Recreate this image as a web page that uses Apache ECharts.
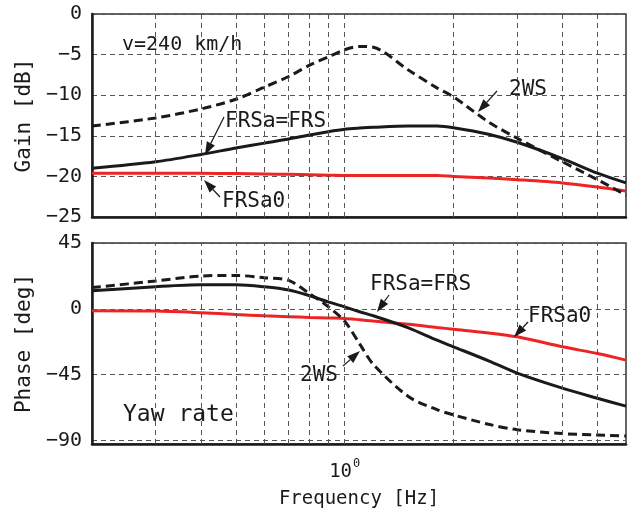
<!DOCTYPE html>
<html>
<head>
<meta charset="utf-8">
<script src="https://cdn.jsdelivr.net/npm/echarts@6/dist/echarts.min.js"></script>
<style>
  html, body { margin: 0; padding: 0; background: #fff; }
  #chart { width: 633px; height: 515px; }
</style>
</head>
<body>
<div id="chart"></div>
<script>
// frequency points [Hz]
var freq = [0.2, 0.3, 0.4, 0.5, 0.6, 0.7, 0.8, 0.9, 1.0, 1.1, 1.2, 1.5, 1.8, 2, 2.5, 3, 4, 5, 6];

// gain [dB]
var gain2WS   = [-13.8, -12.8, -11.7, -10.5, -9.0, -7.7, -6.3, -5.3, -4.4, -4.0, -4.1, -6.9, -9.1, -10.2, -13.3, -15.3, -18.2, -20.4, -22.3];
var gainFRS   = [-19.0, -18.2, -17.3, -16.5, -15.9, -15.4, -14.9, -14.5, -14.2, -14.05, -13.95, -13.8, -13.8, -14.0, -14.8, -15.8, -17.8, -19.6, -20.8];
var gainFRSa0 = [-19.6, -19.6, -19.6, -19.65, -19.7, -19.75, -19.8, -19.85, -19.9, -19.9, -19.9, -19.9, -19.9, -20.0, -20.2, -20.4, -20.8, -21.3, -21.8];

// phase [deg]
var phase2WS   = [14.5, 19, 22.4, 22.8, 21.2, 19.4, 10.3, 1.5, -8.5, -24, -38, -60, -69, -72.6, -79, -82.7, -85.4, -86.3, -87];
var phaseFRS   = [12.3, 15.1, 16.4, 16.4, 15, 12.8, 8.9, 4.7, 1.3, -2, -4.8, -13, -21.5, -26, -35.6, -44, -54.3, -61.2, -66.6];
var phaseFRSa0 = [-1.4, -1.6, -2.7, -3.9, -4.8, -5.4, -5.9, -6.3, -6.6, -7.5, -8.4, -10.6, -12.8, -14, -16.5, -19.2, -26, -30.6, -35.1];

// vertical grid lines of the log axis
var freqGrid = [0.3, 0.4, 0.5, 0.6, 0.7, 0.8, 0.9, 1, 2, 3, 4, 5];
var phaseTicks = [-90, -45, 0, 45];

var FONT = '"DejaVu Sans Mono", monospace';
var RED = '#ee2424';
var INK = '#1a1a1a';

function pairs(ys) {
  return freq.map(function (f, i) { return [f, ys[i]]; });
}

function minus(v) {
  return String(v).replace('-', '\u2212');
}

var gridMarks = {
  silent: true,
  symbol: ['none', 'none'],
  label: { show: false },
  animation: false,
  lineStyle: { color: '#555', width: 1, type: [5, 4] },
  data: freqGrid.map(function (f) { return { xAxis: f }; })
};

function line(name, xi, ys, color, dashed) {
  return {
    name: name,
    type: 'line',
    xAxisIndex: xi,
    yAxisIndex: xi,
    data: pairs(ys),
    smooth: 0.3,
    symbol: 'none',
    animation: false,
    lineStyle: { color: color, width: 3, type: dashed ? [9, 5] : 'solid' },
    z: 3
  };
}

// arrow: thin shaft + filled head
function arrow(x1, y1, x2, y2) {
  var a = Math.atan2(y2 - y1, x2 - x1);
  var L = 13, W = 4.5;
  var bx = x2 - L * Math.cos(a), by = y2 - L * Math.sin(a);
  var px = -Math.sin(a) * W, py = Math.cos(a) * W;
  return [
    { type: 'line', shape: { x1: x1, y1: y1, x2: bx, y2: by }, style: { stroke: INK, lineWidth: 1.2 }, z: 10 },
    { type: 'polygon', shape: { points: [[x2, y2], [bx + px, by + py], [bx - px, by - py]] }, style: { fill: INK }, z: 10 }
  ];
}

function label(text, x, y, size) {
  return {
    type: 'text', x: x, y: y, z: 10,
    style: { text: text, fill: INK, font: (size || 21) + 'px ' + FONT, textAlign: 'left', textVerticalAlign: 'middle' }
  };
}

var graphics = [].concat(
  [label('v=240 km/h', 122, 45, 20)],
  [label('FRSa=FRS', 225, 122)], arrow(224, 117, 205, 155),
  [label('FRSa0', 222, 202)], arrow(220, 197, 204, 180),
  [label('2WS', 509, 90)], arrow(497, 91, 478, 112),
  [label('FRSa=FRS', 370, 285)], arrow(389, 295, 377, 312),
  [label('FRSa0', 528, 317)], arrow(528, 322, 514, 337),
  [label('2WS', 300, 376)], arrow(343, 366, 360, 351),
  [label('Yaw rate', 123, 415, 23)]
);

var chart = echarts.init(document.getElementById('chart'), null, { renderer: 'canvas' });

var xCommon = {
  type: 'log',
  logBase: 10,
  min: 0.2,
  max: 6,
  axisLine: { show: true, onZero: false, lineStyle: { color: INK, width: 2.5 } },
  axisTick: { show: false },
  splitLine: { show: false },
  minorTick: { show: false }
};

var option = {
  backgroundColor: '#fff',
  textStyle: { fontFamily: FONT },
  grid: [
    { left: 92, right: 7, top: 14, height: 203, show: true, borderColor: '#333', borderWidth: 1.5 },
    { left: 92, right: 7, top: 243, height: 201, show: true, borderColor: '#333', borderWidth: 1.5 }
  ],
  xAxis: [
    Object.assign({ gridIndex: 0, axisLabel: { show: false } }, xCommon),
    Object.assign({
      gridIndex: 1,
      name: 'Frequency [Hz]',
      nameLocation: 'middle',
      nameGap: 46,
      nameTextStyle: { fontSize: 19, color: INK, fontFamily: FONT },
      axisLabel: {
        show: true,
        margin: 11,
        color: INK,
        fontFamily: FONT,
        formatter: function (v) {
          return Math.abs(v - 1) < 1e-6 ? '{a|10}{b|0}' : '';
        },
        rich: {
          a: { fontSize: 19, fontFamily: FONT, color: INK, padding: [8, 0, 0, 0] },
          b: { fontSize: 12, fontFamily: FONT, color: INK, padding: [0, 0, 10, 1] }
        }
      }
    }, xCommon)
  ],
  yAxis: [
    {
      gridIndex: 0,
      type: 'value',
      min: -25,
      max: 0,
      interval: 5,
      name: 'Gain [dB]',
      nameLocation: 'middle',
      nameGap: 55,
      nameTextStyle: { fontSize: 21, color: INK, fontFamily: FONT },
      axisLine: { show: true, onZero: false, lineStyle: { color: INK, width: 2.5 } },
      axisTick: { show: false },
      axisLabel: { margin: 10, fontSize: 20, color: INK, fontFamily: FONT, formatter: minus },
      splitLine: { show: true, lineStyle: { color: '#555', width: 1, type: [5, 4] } }
    },
    {
      gridIndex: 1,
      type: 'value',
      min: -92.5,
      max: 45,
      name: 'Phase [deg]',
      nameLocation: 'middle',
      nameGap: 55,
      nameTextStyle: { fontSize: 21, color: INK, fontFamily: FONT },
      axisLine: { show: true, onZero: false, lineStyle: { color: INK, width: 2.5 } },
      axisTick: { show: false, customValues: phaseTicks },
      axisLabel: { margin: 10, fontSize: 20, color: INK, fontFamily: FONT, formatter: minus, customValues: phaseTicks },
      splitLine: { show: true, lineStyle: { color: '#555', width: 1, type: [5, 4] } }
    }
  ],
  series: [
    Object.assign(line('FRSa0', 0, gainFRSa0, RED, false), { markLine: gridMarks }),
    line('FRSa=FRS', 0, gainFRS, INK, false),
    line('2WS', 0, gain2WS, INK, true),
    Object.assign(line('FRSa0', 1, phaseFRSa0, RED, false), { markLine: gridMarks }),
    line('FRSa=FRS', 1, phaseFRS, INK, false),
    line('2WS', 1, phase2WS, INK, true)
  ],
  graphic: graphics
};

chart.setOption(option);
</script>
</body>
</html>
